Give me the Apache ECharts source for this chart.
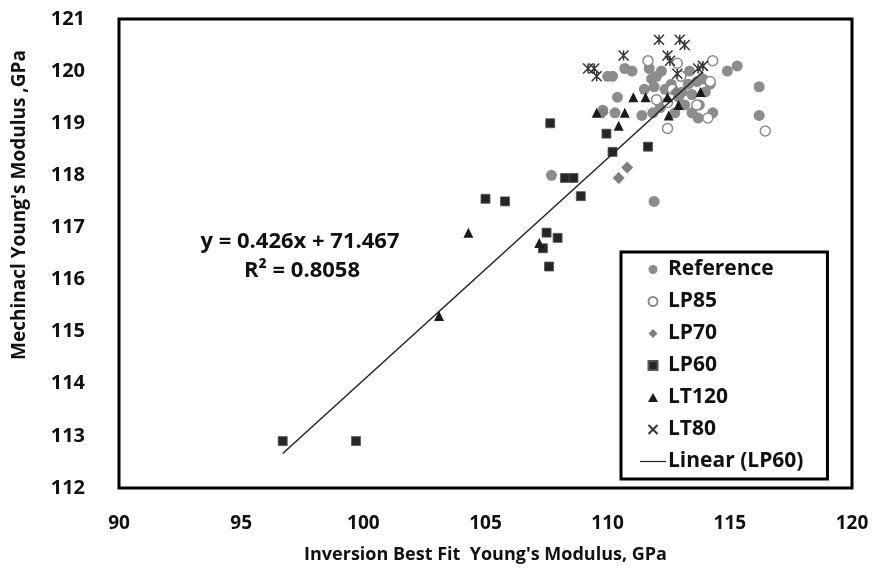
<!DOCTYPE html>
<html>
<head>
<meta charset="utf-8">
<script src="https://cdn.jsdelivr.net/npm/echarts@6/dist/echarts.min.js"></script>
<style>
  html, body { margin: 0; padding: 0; background: #fff; }
  #chart { width: 873px; height: 569px; }
</style>
</head>
<body>
<div id="chart"></div>
<script>
// ---- data ----
const xTicks = [90, 95, 100, 105, 110, 115, 120];
const yTicks = [112, 113, 114, 115, 116, 117, 118, 119, 120, 121];

const referenceData = [
  [107.7,118.0],[111.9,117.5],[116.2,119.7],[116.2,119.15],[115.3,120.1],[114.9,120.0],
  [110.0,119.9],[110.2,119.9],[110.7,120.05],[111.0,120.0],[111.7,120.05],[111.8,119.85],
  [111.9,119.7],[110.4,119.5],[110.3,119.2],[109.8,119.25],[113.05,119.6],[113.65,119.8],
  [113.9,119.85],[114.3,119.2],[113.7,119.1],[111.85,119.2],[112.15,119.3],[112.35,119.65],
  [112.6,119.75],[113.3,119.75],[112.75,119.2],[113.15,119.35],[113.45,119.55],[111.4,119.15],
  [113.75,119.35],[113.45,119.2],[111.5,119.65],[112.2,120.0],[113.35,120.0],[114.2,119.75],
  [112.9,119.5],[112.0,119.9],[114.0,119.6]
];
const lp85Data = [
  [111.65,120.2],[112.85,120.15],[114.3,120.2],[114.2,119.8],[113.65,119.35],[112.45,119.4],
  [112.45,118.9],[114.1,119.1],[116.45,118.85],[112.65,119.65],[112.0,119.45],[113.0,119.9]
];
const lp70Data = [
  [110.8,118.15],[110.45,117.95],[109.8,119.2],[112.8,119.6]
];
const lp60Data = [
  [96.7,112.9],[99.7,112.9],[105.0,117.55],[105.8,117.5],[107.65,119.0],[107.5,116.9],
  [107.95,116.8],[107.35,116.6],[107.6,116.25],[108.9,117.6],[108.25,117.95],[108.6,117.95],
  [109.95,118.8],[110.2,118.45],[111.65,118.55]
];
const lt120Data = [
  [103.1,115.3],[104.3,116.9],[107.2,116.7],[109.55,119.2],[110.45,118.95],[110.7,119.2],
  [111.05,119.5],[111.55,119.5],[112.45,119.5],[112.9,119.35],[112.5,119.15],[113.8,119.6]
];
const lt80Data = [
  [109.2,120.05],[109.45,120.05],[109.55,119.9],[110.65,120.3],[112.1,120.6],[112.95,120.6],
  [113.15,120.5],[112.45,120.3],[112.55,120.2],[112.85,119.95],[113.7,120.05],[113.9,120.1]
];
const trendSlope = 0.426;
const trendIntercept = 71.467;
const trendRange = [96.7, 113.9];
const equationText = 'y = 0.426x + 71.467';
const r2Text = 'R² = 0.8058';

// ---- chart ----
const trendData = trendRange.map(x => [x, trendSlope * x + trendIntercept]);
const FONT = '"Open Sans", "DejaVu Sans", sans-serif';

const SQUARE = 'path://M0,0L10,0L10,10L0,10Z';
const DIAMOND = 'path://M5,0L10,5L5,10L0,5Z';
const TRIANGLE = 'path://M5,0L10,9L0,9Z';
const STAR = 'path://M0,0L10,10M10,0L0,10M5,0L5,10';
const LINEICON = 'path://M0,0L26,0L26,1.2L0,1.2Z';

const chart = echarts.init(document.getElementById('chart'));
chart.setOption({
  animation: false,
  backgroundColor: '#fff',
  textStyle: { fontFamily: FONT },
  grid: {
    left: 119, right: 21, top: 19, bottom: 80,
    show: true, borderColor: '#000', borderWidth: 3, backgroundColor: 'transparent'
  },
  xAxis: {
    type: 'value', min: xTicks[0], max: xTicks[xTicks.length - 1], interval: 5,
    axisLine: { show: false }, axisTick: { show: false }, splitLine: { show: false },
    axisLabel: { margin: 26, color: '#111', fontSize: 19, fontWeight: 'bold', fontFamily: FONT },
    name: "Inversion Best Fit  Young's Modulus, GPa",
    nameLocation: 'middle', nameGap: 58,
    nameTextStyle: { color: '#111', fontSize: 18, fontWeight: 'bold', fontFamily: FONT }
  },
  yAxis: {
    type: 'value', min: yTicks[0], max: yTicks[yTicks.length - 1], interval: 1,
    axisLine: { show: false }, axisTick: { show: false }, splitLine: { show: false },
    axisLabel: { margin: 34, color: '#111', fontSize: 20, fontWeight: 'bold', fontFamily: FONT }
  },
  legend: {
    orient: 'vertical',
    left: 621, top: 252,
    padding: [7, 24, 7, 19],
    itemWidth: 26, itemHeight: 9, itemGap: 11,
    symbolKeepAspect: true,
    backgroundColor: '#fff', borderColor: '#000', borderWidth: 3,
    textStyle: { color: '#111', fontSize: 21, fontWeight: 'bold', fontFamily: FONT, lineHeight: 21, padding: [0, 0, 0, -3] },
    data: [
      { name: 'Reference', icon: 'circle' },
      { name: 'LP85', icon: 'circle' },
      { name: 'LP70', icon: DIAMOND },
      { name: 'LP60', icon: SQUARE },
      { name: 'LT120', icon: TRIANGLE },
      { name: 'LT80', icon: 'path://M0,0L10,10M10,0L0,10' },
      { name: 'Linear (LP60)', icon: LINEICON, itemStyle: { color: '#222', borderWidth: 0 } }
    ]
  },
  graphic: [
    {
      type: 'text', x: 20, y: 205, rotation: Math.PI / 2,
      style: {
        text: "Mechinacl Young's Modulus ,GPa", fill: '#111',
        font: 'bold 19px ' + FONT, textAlign: 'center', textVerticalAlign: 'middle'
      }
    },
    {
      type: 'text', x: 300, y: 242,
      style: { text: equationText, fill: '#111', font: 'bold 22px ' + FONT, textAlign: 'center', textVerticalAlign: 'middle' }
    },
    {
      type: 'text', x: 302, y: 271,
      style: { text: r2Text, fill: '#111', font: 'bold 22px ' + FONT, textAlign: 'center', textVerticalAlign: 'middle' }
    }
  ],
  series: [
    { name: 'Reference', type: 'scatter', data: referenceData, symbol: 'circle', symbolSize: 11,
      itemStyle: { color: '#8c8c8c', opacity: 1 } },
    { name: 'LP85', type: 'scatter', data: lp85Data, symbol: 'circle', symbolSize: 10,
      itemStyle: { color: '#fff', borderColor: '#8a8a8a', borderWidth: 1.5, opacity: 1 } },
    { name: 'LP70', type: 'scatter', data: lp70Data, symbol: DIAMOND, symbolSize: 12,
      itemStyle: { color: '#7f7f7f', opacity: 1 } },
    { name: 'LP60', type: 'scatter', data: lp60Data, symbol: SQUARE, symbolSize: 9,
      itemStyle: { color: '#262626', borderColor: '#555', borderWidth: 0.8, opacity: 1 } },
    { name: 'LT120', type: 'scatter', data: lt120Data, symbol: TRIANGLE, symbolSize: 10,
      itemStyle: { color: '#1a1a1a', opacity: 1 } },
    { name: 'LT80', type: 'scatter', data: lt80Data, symbol: STAR, symbolSize: 10,
      itemStyle: { color: 'none', borderColor: '#333', borderWidth: 1.5, opacity: 1 } },
    { name: 'Linear (LP60)', type: 'line', data: trendData, symbol: 'none',
      lineStyle: { color: '#222', width: 1.5 }, itemStyle: { color: '#222' }, z: 5 }
  ]
});
</script>
</body>
</html>
